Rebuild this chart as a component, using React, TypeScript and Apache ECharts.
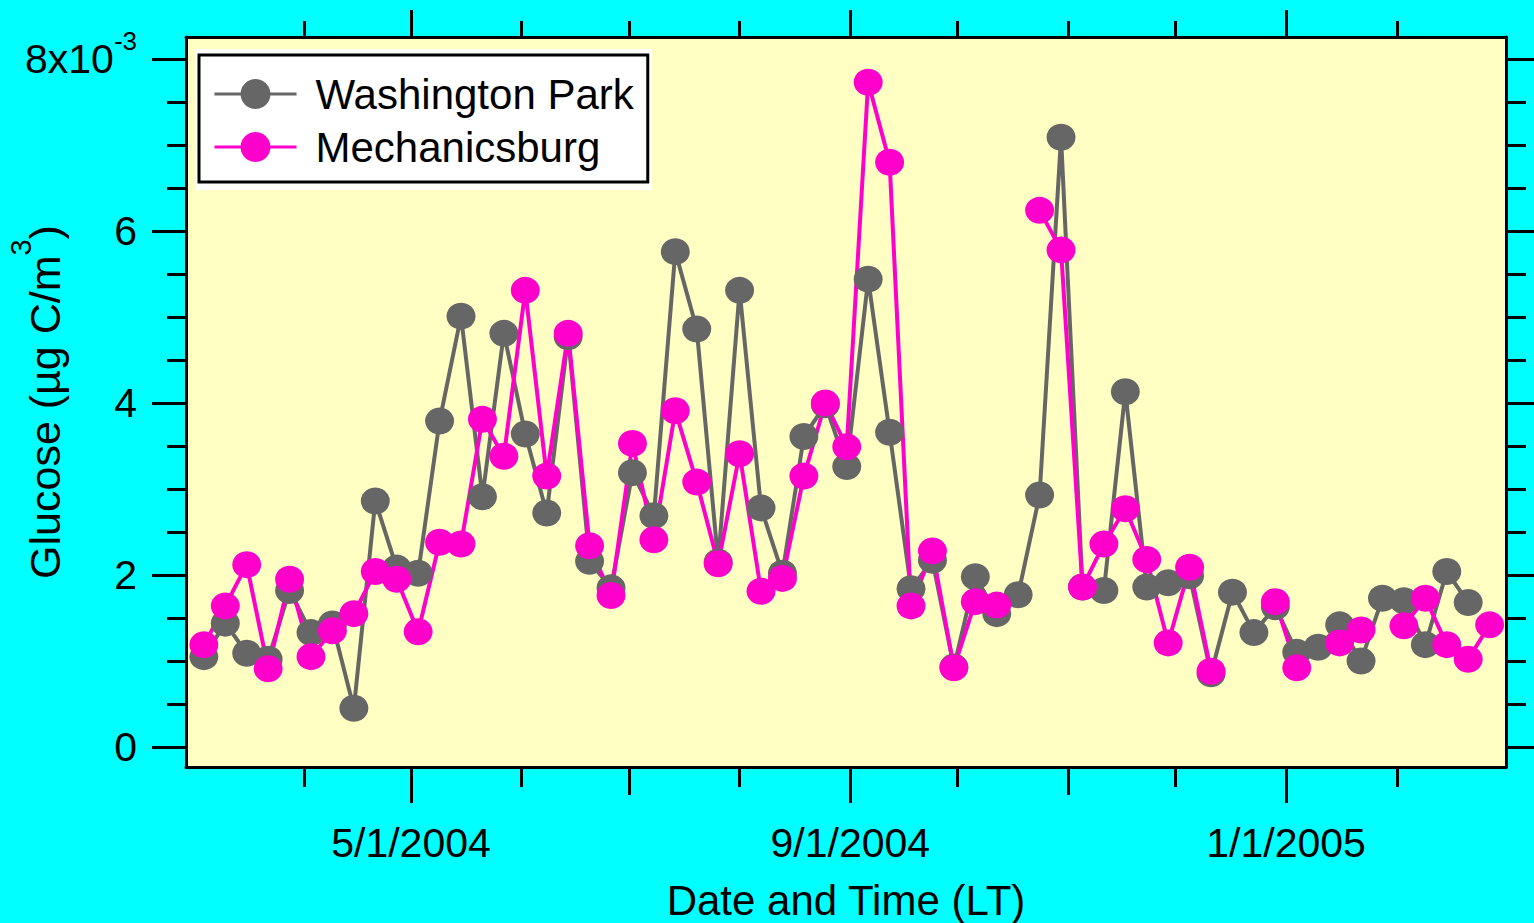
import { useEffect, useRef } from 'react';
import * as echarts from 'echarts';

// Sampling days (every 6th day), March 2004 – February 2005
const sampleDates = [
  '2004-03-04', '2004-03-10', '2004-03-16', '2004-03-22', '2004-03-28',
  '2004-04-03', '2004-04-09', '2004-04-15', '2004-04-21', '2004-04-27',
  '2004-05-03', '2004-05-09', '2004-05-15', '2004-05-21', '2004-05-27',
  '2004-06-02', '2004-06-08', '2004-06-14', '2004-06-20', '2004-06-26',
  '2004-07-02', '2004-07-08', '2004-07-14', '2004-07-20', '2004-07-26',
  '2004-08-01', '2004-08-07', '2004-08-13', '2004-08-19', '2004-08-25', '2004-08-31',
  '2004-09-06', '2004-09-12', '2004-09-18', '2004-09-24', '2004-09-30',
  '2004-10-06', '2004-10-12', '2004-10-18', '2004-10-24', '2004-10-30',
  '2004-11-05', '2004-11-11', '2004-11-17', '2004-11-23', '2004-11-29',
  '2004-12-05', '2004-12-11', '2004-12-17', '2004-12-23', '2004-12-29',
  '2005-01-04', '2005-01-10', '2005-01-16', '2005-01-22', '2005-01-28',
  '2005-02-03', '2005-02-09', '2005-02-15', '2005-02-21', '2005-02-27',
];

// Glucose, in units of 1e-3 µg C/m³ (null = no sample)
const washingtonPark = [
  1.05, 1.44, 1.09, 1.02, 1.82, 1.33, 1.43, 0.45, 2.86, 2.08,
  2.02, 3.79, 5.01, 2.91, 4.81, 3.64, 2.72, 4.77, 2.16, 1.85,
  3.19, 2.69, 5.76, 4.86, 2.15, 5.31, 2.78, 2.02, 3.61, 3.98,
  3.26, 5.44, 3.66, 1.84, 2.17, 0.93, 1.98, 1.55, 1.77, 2.93,
  7.09, 1.86, 1.82, 4.13, 1.86, 1.91, 1.99, 0.85, 1.80, 1.33,
  1.63, 1.10, 1.16, 1.42, 1.00, 1.73, 1.70, 1.19, 2.04, 1.68,
  null,
];

const mechanicsburg = [
  1.19, 1.64, 2.12, 0.91, 1.95, 1.05, 1.35, 1.55, 2.04, 1.95,
  1.34, 2.38, 2.36, 3.81, 3.38, 5.31, 3.15, 4.81, 2.34, 1.76,
  3.53, 2.41, 3.91, 3.08, 2.13, 3.41, 1.81, 1.96, 3.15, 4.00,
  3.49, 7.73, 6.80, 1.64, 2.28, 0.92, 1.69, 1.65, null, 6.24,
  5.78, 1.86, 2.36, 2.77, 2.18, 1.21, 2.09, 0.88, null, null,
  1.69, 0.92, null, 1.21, 1.36, null, 1.41, 1.73, 1.19, 1.02,
  1.42,
];

const seriesNames = ['Washington Park', 'Mechanicsburg'];

// Date axis ticks
const xLabelTicks = ['2004-05-01', '2004-09-01', '2005-01-01'];
const xMidTicks = ['2004-07-01', '2004-11-01'];
const xMonthTicks = ['2004-04-01', '2004-06-01', '2004-08-01', '2004-10-01', '2004-12-01', '2005-02-01'];

// Value axis ticks
const yLabelTicks = [0, 2, 4, 6, 8];
const yMinorTicks = [0.5, 1, 1.5, 2.5, 3, 3.5, 4.5, 5, 5.5, 6.5, 7, 7.5];

const FONT = '"Liberation Sans", Arial, Helvetica, sans-serif';

const toMs = (s: string) => {
  const [y, m, d] = s.split('-').map(Number);
  return Date.UTC(y, m - 1, d);
};

const fmtDate = (v: number) => {
  const dt = new Date(v);
  return `${dt.getUTCMonth() + 1}/${dt.getUTCDate()}/${dt.getUTCFullYear()}`;
};

const X_MIN = Date.UTC(2004, 1, 28);
const X_MAX = Date.UTC(2005, 2, 3, 14);
const Y_MIN = -0.233;
const Y_MAX = 8.256;

const black = { color: '#000', width: 3 };

function xAxisDef(position: 'top' | 'bottom', ticks: string[], length: number, withLine: boolean) {
  return {
    type: 'value',
    position,
    min: X_MIN,
    max: X_MAX,
    splitLine: { show: false },
    axisLine: { show: withLine, onZero: false, lineStyle: black },
    axisTick: { show: true, customValues: ticks.map(toMs), length, lineStyle: black },
    axisLabel: { show: false },
  };
}

function yAxisDef(position: 'left' | 'right', ticks: number[], length: number, withLine: boolean) {
  return {
    type: 'value',
    position,
    min: Y_MIN,
    max: Y_MAX,
    splitLine: { show: false },
    axisLine: { show: withLine, onZero: false, lineStyle: black },
    axisTick: { show: true, customValues: ticks, length, lineStyle: black },
    axisLabel: { show: false },
  };
}

const toPairs = (vals: (number | null)[]) => sampleDates.map((d, i) => [toMs(d), vals[i]]);

export default function App() {
  const ref = useRef<HTMLDivElement>(null);

  useEffect(() => {
    if (!ref.current) return;
    const chart = echarts.init(ref.current, undefined, { renderer: 'svg' });

    const xBottom: any = xAxisDef('bottom', xLabelTicks, 36, true);
    xBottom.axisLabel = {
      show: true,
      customValues: xLabelTicks.map(toMs),
      formatter: (v: number) => fmtDate(v),
      fontSize: 41,
      fontFamily: FONT,
      color: '#000',
      margin: 55,
    };
    xBottom.name = 'Date and Time (LT)';
    xBottom.nameLocation = 'middle';
    xBottom.nameGap = 112;
    xBottom.nameMoveOverlap = false;
    xBottom.nameTextStyle = { fontSize: 42, fontFamily: FONT, color: '#000' };

    const yLeft: any = yAxisDef('left', yLabelTicks, 34, true);
    yLeft.axisLabel = {
      show: true,
      customValues: yLabelTicks,
      margin: 49,
      color: '#000',
      fontFamily: FONT,
      fontSize: 41,
      formatter: (v: number) => (v === 8 ? '{m|8x10}{e|-3}' : `{n|${v}}`),
      rich: {
        n: { fontSize: 41, fontFamily: FONT, color: '#000' },
        m: { fontSize: 41, fontFamily: FONT, color: '#000', lineHeight: 62 },
        e: { fontSize: 26, fontFamily: FONT, color: '#000', lineHeight: 26, verticalAlign: 'top' },
      },
    };
    yLeft.name = '{a|Glucose (µg C/m}{s|3}{a|)}';
    yLeft.nameLocation = 'middle';
    yLeft.nameRotate = 90;
    yLeft.nameGap = 102;
    yLeft.nameMoveOverlap = false;
    yLeft.nameTextStyle = {
      fontFamily: FONT,
      color: '#000',
      rich: {
        a: { fontSize: 43, fontFamily: FONT, color: '#000', lineHeight: 78 },
        s: { fontSize: 29, fontFamily: FONT, color: '#000', lineHeight: 29, verticalAlign: 'top' },
      },
    };

    const option: any = {
      animation: false,
      backgroundColor: '#00FFFF',
      grid: {
        left: 186,
        right: 28,
        top: 37,
        bottom: 156,
        show: true,
        backgroundColor: '#FFFFC4',
        borderWidth: 0,
        containLabel: false,
        outerBoundsMode: 'none',
      },
      xAxis: [
        xBottom,
        xAxisDef('bottom', xMidTicks, 28, false),
        xAxisDef('bottom', xMonthTicks, 20, false),
        xAxisDef('top', xLabelTicks, 27, true),
        xAxisDef('top', [...xMidTicks, ...xMonthTicks], 16, false),
      ],
      yAxis: [
        yLeft,
        yAxisDef('left', yMinorTicks, 19, false),
        yAxisDef('right', yLabelTicks, 34, true),
        yAxisDef('right', yMinorTicks, 20, false),
      ],
      legend: {
        orient: 'vertical',
        left: 199,
        top: 55,
        padding: [18, 14, 14, 14],
        itemWidth: 82,
        itemHeight: 37.5,
        itemGap: 11,
        backgroundColor: '#FFFFFF',
        borderColor: '#000',
        borderWidth: 3,
        lineStyle: { width: 3 },
        textStyle: { fontSize: 42, fontFamily: FONT, color: '#000', padding: [0, 0, 0, 14] },
        data: seriesNames,
      },
      graphic: [
        {
          type: 'rect',
          z: 3,
          shape: { x: 196, y: 49, width: 456, height: 141 },
          style: { fill: '#FFFFFF' },
          silent: true,
        },
      ],
      series: [
        {
          name: seriesNames[0],
          type: 'line',
          xAxisIndex: 0,
          yAxisIndex: 0,
          data: toPairs(washingtonPark),
          symbol: 'circle',
          symbolSize: [29, 27],
          connectNulls: false,
          lineStyle: { color: '#666666', width: 4 },
          itemStyle: { color: '#666666' },
        },
        {
          name: seriesNames[1],
          type: 'line',
          xAxisIndex: 0,
          yAxisIndex: 0,
          data: toPairs(mechanicsburg),
          symbol: 'circle',
          symbolSize: [29, 27],
          connectNulls: false,
          lineStyle: { color: '#FF00CC', width: 4 },
          itemStyle: { color: '#FF00CC' },
        },
      ],
    };

    chart.setOption(option);
    return () => chart.dispose();
  }, []);

  return (
    <div
      ref={ref}
      style={{ position: 'fixed', left: 0, top: 0, width: 1534, height: 923 }}
    />
  );
}
